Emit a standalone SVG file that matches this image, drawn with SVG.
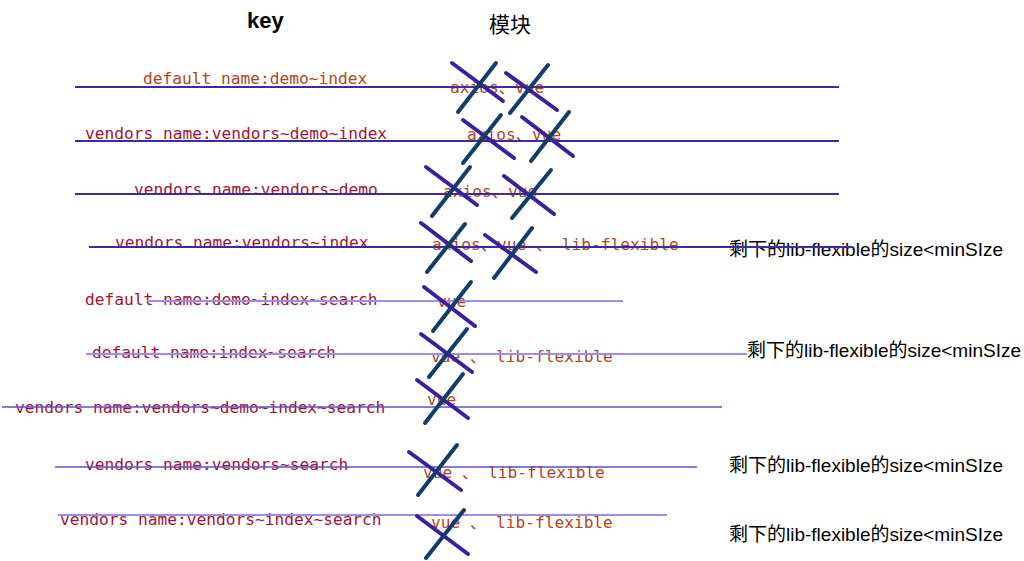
<svg xmlns="http://www.w3.org/2000/svg" width="1024" height="561" viewBox="0 0 1024 561">
<style>
.mono{font-family:"DejaVu Sans Mono","Noto Sans CJK SC",monospace;font-size:16.2px}
.brown{fill:#b2461d}
.red{fill:#a5132f}
.note{font-family:"Liberation Sans","Noto Sans CJK SC",sans-serif;font-size:19px;fill:#000}
.hd{font-family:"Liberation Sans","Noto Sans CJK SC",sans-serif;fill:#000}
.ld{stroke:#3d2aa6;stroke-width:2;fill:none}
.ll{stroke:#9a8cf0;stroke-width:2;fill:none}
.lm{stroke:#5d4fd2;stroke-width:1.5;fill:none}
.xa{stroke:#3a1fa0;stroke-width:4;stroke-linecap:round}
.xb{stroke:#0f3d6e;stroke-width:4;stroke-linecap:round}
</style>
<rect width="1024" height="561" fill="#fff"/>
<g id="header">
<text class="hd" x="247" y="28" font-size="22" font-weight="bold">key</text>
<text class="hd" x="489" y="32" font-size="21">模块</text>
</g>
<g id="labels">
<text class="mono brown" x="143" y="84">default name:demo~index</text>
<text class="mono red" x="85" y="139">vendors name:vendors~demo~index</text>
<text class="mono red" x="134" y="195">vendors name:vendors~demo</text>
<text class="mono red" x="115" y="248">vendors name:vendors~index</text>
<text class="mono red" x="85" y="305">default name:demo~index~search</text>
<text class="mono red" x="92" y="358">default name:index~search</text>
<text class="mono red" x="15" y="413">vendors name:vendors~demo~index~search</text>
<text class="mono red" x="85" y="470">vendors name:vendors~search</text>
<text class="mono red" x="60" y="525">vendors name:vendors~index~search</text>
</g>
<g id="modules">
<text class="mono brown" x="450" y="93">axios、vue</text>
<text class="mono brown" x="467" y="140">axios、vue</text>
<text class="mono brown" x="443" y="197">axios、vue</text>
<text class="mono brown" x="432" y="250">axios、vue 、 lib-flexible</text>
<text class="mono brown" x="437" y="307">vue</text>
<text class="mono brown" x="431" y="362">vue 、 lib-flexible</text>
<text class="mono brown" x="427" y="405">vue</text>
<text class="mono brown" x="423" y="478">vue 、 lib-flexible</text>
<text class="mono brown" x="431" y="528">vue 、 lib-flexible</text>
</g>
<g id="notes">
<text class="note" x="729" y="256">剩下的lib-flexible的size&lt;minSIze</text>
<text class="note" x="747" y="357">剩下的lib-flexible的size&lt;minSIze</text>
<text class="note" x="729" y="472">剩下的lib-flexible的size&lt;minSIze</text>
<text class="note" x="729" y="541">剩下的lib-flexible的size&lt;minSIze</text>
</g>
<g id="connectors">
<line class="ld" x1="75" y1="87" x2="839" y2="87"/>
<line class="ld" x1="75" y1="141" x2="839" y2="141"/>
<line class="ld" x1="75" y1="194" x2="839" y2="194"/>
<line class="ld" x1="89" y1="247" x2="853" y2="247"/>
<line class="ll" x1="147" y1="301" x2="623" y2="301"/>
<line class="ll" x1="86" y1="354" x2="747" y2="354"/>
<line class="lm" x1="2" y1="407" x2="722" y2="407"/>
<line class="lm" x1="55" y1="467" x2="697" y2="467"/>
<line class="ll" x1="58" y1="515" x2="667" y2="515"/>
</g>
<g id="crosses">
<line class="xa" x1="452" y1="63" x2="503" y2="101"/><line class="xb" x1="496" y1="63" x2="458" y2="112"/>
<line class="xa" x1="506" y1="73" x2="557" y2="110"/><line class="xb" x1="548" y1="65" x2="510" y2="113"/>
<line class="xa" x1="463" y1="120" x2="514" y2="158"/><line class="xb" x1="501" y1="115" x2="463" y2="163"/>
<line class="xa" x1="522" y1="117" x2="573" y2="156"/><line class="xb" x1="569" y1="112" x2="531" y2="161"/>
<line class="xa" x1="426" y1="167" x2="477" y2="205"/><line class="xb" x1="470" y1="167" x2="432" y2="216"/>
<line class="xa" x1="504" y1="176" x2="554" y2="214"/><line class="xb" x1="551" y1="170" x2="512" y2="218"/>
<line class="xa" x1="421" y1="223" x2="471" y2="261"/><line class="xb" x1="465" y1="224" x2="427" y2="272"/>
<line class="xa" x1="485" y1="235" x2="536" y2="272"/><line class="xb" x1="532" y1="228" x2="494" y2="278"/>
<line class="xa" x1="424" y1="287" x2="475" y2="326"/><line class="xb" x1="471" y1="282" x2="433" y2="331"/>
<line class="xa" x1="421" y1="334" x2="472" y2="372"/><line class="xb" x1="467" y1="329" x2="429" y2="377"/>
<line class="xa" x1="417" y1="380" x2="468" y2="418"/><line class="xb" x1="463" y1="374" x2="425" y2="423"/>
<line class="xa" x1="409" y1="452" x2="461" y2="490"/><line class="xb" x1="457" y1="445" x2="418" y2="495"/>
<line class="xa" x1="417" y1="516" x2="468" y2="554"/><line class="xb" x1="464" y1="510" x2="426" y2="558"/>
</g>
</svg>
